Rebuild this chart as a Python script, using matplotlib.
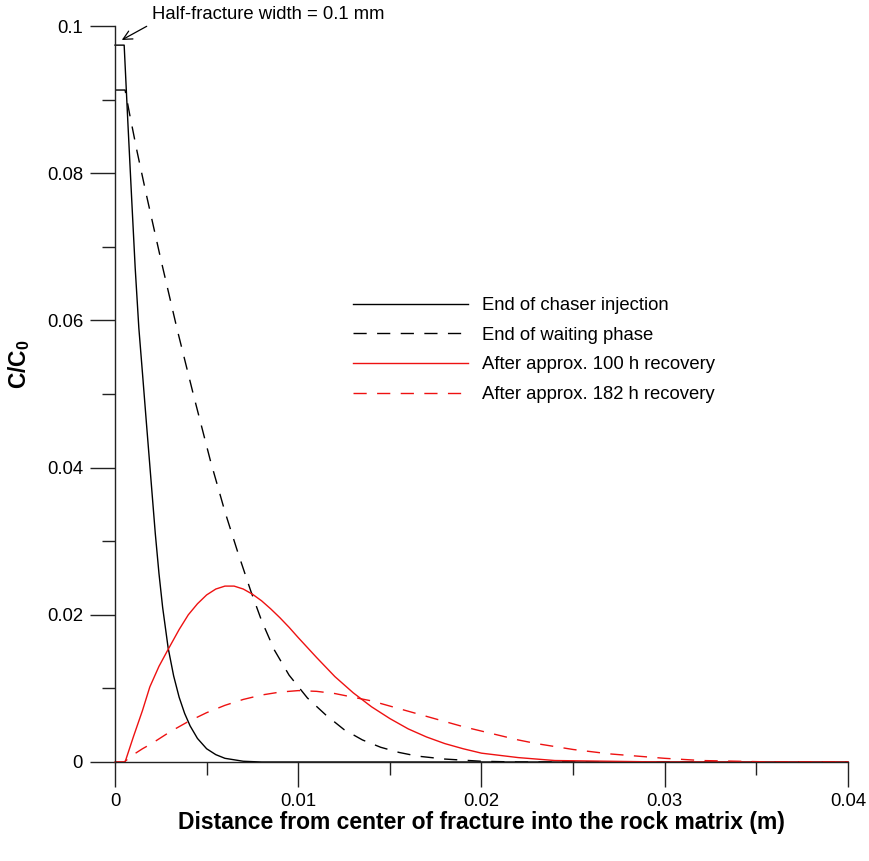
import matplotlib
matplotlib.use("Agg")
import matplotlib.pyplot as plt
from matplotlib.ticker import MultipleLocator, FuncFormatter

plt.rcParams["font.family"] = ["Liberation Sans", "DejaVu Sans"]
plt.rcParams["mathtext.fontset"] = "custom"
plt.rcParams["mathtext.rm"] = "Liberation Sans"
plt.rcParams["mathtext.bf"] = "Liberation Sans:bold"

# profiles C/C0 vs. distance from fracture centre (m)
x_inj = [0, 0.0005, 0.0007, 0.0009, 0.0011, 0.0013, 0.0015, 0.0017, 0.0020, 0.0022,
         0.0024, 0.0026, 0.0029, 0.0032, 0.0035, 0.0038, 0.0041, 0.0045, 0.0050,
         0.0055, 0.0060, 0.0065, 0.0070, 0.0080, 0.0400]
c_inj = [0.0974, 0.0974, 0.0870, 0.0770, 0.0672, 0.0590, 0.0528, 0.0465, 0.0372, 0.0310,
         0.0256, 0.0210, 0.0155, 0.0117, 0.0088, 0.0066, 0.0049, 0.0032, 0.0018,
         0.0010, 0.0005, 0.0003, 0.0001, 0.0, 0.0]

x_wait = [0, 0.00055, 0.0008, 0.0012, 0.0017, 0.0025, 0.0034, 0.0043, 0.0052, 0.0060,
          0.0067, 0.0074, 0.0080, 0.0087, 0.0095, 0.0105, 0.0115, 0.0125, 0.0135,
          0.0145, 0.0155, 0.0165, 0.0180, 0.0200, 0.0220, 0.0400]
c_wait = [0.0913, 0.0913, 0.0880, 0.0830, 0.0772, 0.0683, 0.0587, 0.0497, 0.0410, 0.0340,
          0.0285, 0.0233, 0.0192, 0.0152, 0.0118, 0.0087, 0.0064, 0.0044, 0.0030,
          0.0020, 0.0013, 0.0008, 0.0004, 0.0001, 0.0, 0.0]

x_100 = [0, 0.00055, 0.0010, 0.0015, 0.0019, 0.0024, 0.0029, 0.0035, 0.0040, 0.0045,
         0.0050, 0.0055, 0.0060, 0.0065, 0.0070, 0.0075, 0.0080, 0.0085, 0.0090,
         0.0095, 0.0100, 0.0110, 0.0120, 0.0130, 0.0140, 0.0150, 0.0160, 0.0170,
         0.0180, 0.0190, 0.0200, 0.0220, 0.0240, 0.0270, 0.0300, 0.0400]
c_100 = [0, 0.0, 0.0034, 0.0070, 0.0102, 0.0130, 0.0153, 0.0180, 0.0200, 0.0215,
         0.0227, 0.0235, 0.0239, 0.0239, 0.0235, 0.0228, 0.0219, 0.0208, 0.0196,
         0.0183, 0.0169, 0.0142, 0.0116, 0.0094, 0.0075, 0.0059, 0.0045, 0.0034,
         0.0025, 0.0018, 0.0012, 0.0006, 0.0002, 0.0001, 0.0, 0.0]

x_182 = [0, 0.0005, 0.0010, 0.0015, 0.0020, 0.0030, 0.0040, 0.0050, 0.0060, 0.0070,
         0.0080, 0.0090, 0.0100, 0.0110, 0.0120, 0.0130, 0.0140, 0.0150, 0.0160,
         0.0170, 0.0180, 0.0190, 0.0200, 0.0210, 0.0220, 0.0230, 0.0240, 0.0250,
         0.0260, 0.0270, 0.0280, 0.0290, 0.0300, 0.0320, 0.0340, 0.0360, 0.0400]
c_182 = [0, 0.0, 0.0010, 0.0018, 0.0025, 0.0041, 0.0055, 0.0067, 0.0077, 0.0085,
         0.0091, 0.0095, 0.0097, 0.0096, 0.0093, 0.0088, 0.0083, 0.0076, 0.0069,
         0.0062, 0.0055, 0.0048, 0.0042, 0.0036, 0.0030, 0.0025, 0.0021, 0.0017,
         0.0014, 0.0011, 0.0009, 0.0007, 0.0005, 0.0002, 0.0001, 0.0, 0.0]

labels = ["End of chaser injection", "End of waiting phase",
          "After approx. 100 h recovery", "After approx. 182 h recovery"]

red = "#ee1111"
dash = (9.5, 7.5)

fig = plt.figure(figsize=(8.69, 8.61), dpi=100)
ax = fig.add_axes([115 / 869, 1 - 762 / 861, 733 / 869, 736 / 861])

ax.plot(x_inj, c_inj, color="black", lw=1.0, label=labels[0], clip_on=False)
ax.plot(x_wait, c_wait, color="black", lw=1.0, dashes=dash, label=labels[1], clip_on=False)
ax.plot(x_100, c_100, color=red, lw=1.0, label=labels[2], clip_on=False)
ax.plot(x_182, c_182, color=red, lw=1.0, dashes=dash, label=labels[3], clip_on=False)

ax.set_xlim(0, 0.04)
ax.set_ylim(0, 0.1)
for s in ["top", "right"]:
    ax.spines[s].set_visible(False)
for s in ["left", "bottom"]:
    ax.spines[s].set_linewidth(1.0)
    ax.spines[s].set_color("#222222")

ax.xaxis.set_major_locator(MultipleLocator(0.01))
ax.xaxis.set_minor_locator(MultipleLocator(0.005))
ax.yaxis.set_major_locator(MultipleLocator(0.02))
ax.yaxis.set_minor_locator(MultipleLocator(0.01))
fmt = FuncFormatter(lambda v, p: "0" if abs(v) < 1e-12 else "{:g}".format(round(v, 4)))
ax.xaxis.set_major_formatter(fmt)
ax.yaxis.set_major_formatter(fmt)
ax.tick_params(which="major", length=18, width=1.0, color="#222222", labelsize=13.3)
ax.tick_params(which="minor", length=9.5, width=1.0, color="#222222")
ax.tick_params(axis="x", which="major", pad=4.5)
ax.tick_params(axis="y", which="major", pad=5)

ax.set_xlabel("Distance from center of fracture into the rock matrix (m)",
              fontsize=16.5, fontweight="bold")
ax.xaxis.set_label_coords(0.5, -0.067)
ax.set_ylabel(r"$\mathbf{C/C_0}$", fontsize=16.5)
ax.yaxis.set_label_coords(-0.113, 0.54)

# arrow pointing at the fracture edge
ax.annotate("", xy=(0.00037, 0.0981), xytext=(0.00173, 0.09996),
            arrowprops=dict(arrowstyle="->", lw=0.9, color="black",
                            mutation_scale=16, shrinkA=0, shrinkB=0),
            annotation_clip=False)
ax.text(0.00202, 0.1016, "Half-fracture width = 0.1 mm", fontsize=13.3,
        ha="left", va="center")

ax.legend(loc="upper left", bbox_to_anchor=(353 / 869, 1 - 297 / 861),
          bbox_transform=fig.transFigure, frameon=False, fontsize=13.3,
          handlelength=6.2, handletextpad=0.8, labelspacing=0.69, borderpad=0,
          borderaxespad=0)

fig.savefig("out.png", dpi=100)
